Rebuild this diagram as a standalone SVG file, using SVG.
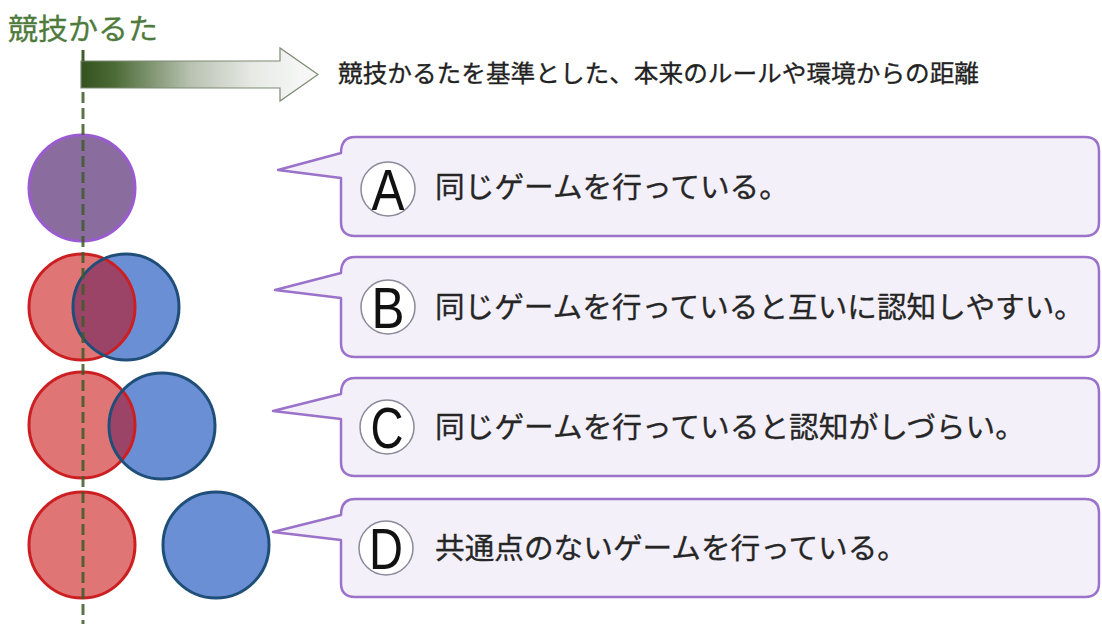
<svg xmlns="http://www.w3.org/2000/svg" width="1102" height="624" viewBox="0 0 1102 624">
<defs>
<linearGradient id="ag" x1="81" y1="0" x2="300" y2="0" gradientUnits="userSpaceOnUse">
<stop offset="0" stop-color="#34521e"/>
<stop offset="0.15" stop-color="#4b6a35"/>
<stop offset="0.5" stop-color="#b8c2b1"/>
<stop offset="0.78" stop-color="#e6e9e4"/>
<stop offset="1" stop-color="#f5f6f5"/>
</linearGradient>
<clipPath id="cb"><circle cx="126" cy="307" r="53"/></clipPath>
<clipPath id="cc"><circle cx="162" cy="426" r="53"/></clipPath>
</defs>
<style>
.jp{font-family:"Noto Sans CJK JP","Noto Sans CJK SC",sans-serif}
.box{fill:#f3f0f9;stroke:#9b72c9;stroke-width:2.5;stroke-linejoin:round}
.txt{font-size:29px;fill:#262626;stroke:#262626;stroke-width:0.3}
.lc{fill:#ffffff;stroke:#8a8a9a;stroke-width:1.5}
.lt{font-family:"Liberation Sans",Arial,sans-serif;font-size:58px;fill:#111111;text-anchor:middle}
.rf{fill:#e07575}
.rs{fill:none;stroke:#cc1f22;stroke-width:3}
.bf{fill:#6b8fd4}
.bs{fill:none;stroke:#1f4e79;stroke-width:3}
.ov{fill:#9c4468}
</style>
<text class="jp" x="8" y="40" font-size="29" fill="#4e7b3c" stroke="#4e7b3c" stroke-width="0.3" textLength="150" lengthAdjust="spacingAndGlyphs">競技かるた</text>
<g id="axis-arrow">
<path d="M81,61 H280 V48 L318,74.5 L280,101 V88 H81 Z" fill="url(#ag)" stroke="#7d8a74" stroke-width="1.2"/>
<text class="jp" x="338" y="82" font-size="24" fill="#222222" stroke="#222222" stroke-width="0.3" textLength="641" lengthAdjust="spacingAndGlyphs">競技かるたを基準とした、本来のルールや環境からの距離</text>
</g>
<g id="circle-A">
<circle cx="82" cy="188" r="53" fill="#8b6c9f" stroke="#9b5bd0" stroke-width="3"/>
</g>
<g id="circles-B">
<circle class="rf" cx="82" cy="307" r="53"/>
<circle class="bf" cx="126" cy="307" r="53"/>
<circle class="ov" cx="82" cy="307" r="53" clip-path="url(#cb)"/>
<circle class="rs" cx="82" cy="307" r="53"/>
<circle class="bs" cx="126" cy="307" r="53"/>
</g>
<g id="circles-C">
<circle class="rf" cx="82" cy="425" r="53"/>
<circle class="bf" cx="162" cy="426" r="53"/>
<circle class="ov" cx="82" cy="425" r="53" clip-path="url(#cc)"/>
<circle class="rs" cx="82" cy="425" r="53"/>
<circle class="bs" cx="162" cy="426" r="53"/>
</g>
<g id="circles-D">
<circle class="rf" cx="82" cy="545" r="53"/>
<circle class="rs" cx="82" cy="545" r="53"/>
<circle class="bf" cx="216" cy="545" r="53"/>
<circle class="bs" cx="216" cy="545" r="53"/>
</g>
<g id="connectors">
<line x1="83" y1="50" x2="83" y2="61" stroke="#3f5f2a" stroke-width="3"/>
<line x1="83" y1="92" x2="83" y2="624" stroke="#3d5c28" stroke-width="3" stroke-dasharray="11 5" stroke-opacity="0.85"/>
</g>
<g id="callout-A">
<path class="box" d="M355,137 H1085 Q1099,137 1099,151 V222 Q1099,236 1085,236 H355 Q341,236 341,222 V178 L278,170 L341,153 Q341,137 355,137 Z"/>
<circle class="lc" cx="388" cy="189" r="27"/>
<text class="lt" x="388" y="210" textLength="33" lengthAdjust="spacingAndGlyphs">A</text>
<text class="jp txt" x="435" y="198" textLength="354" lengthAdjust="spacingAndGlyphs">同じゲームを行っている。</text>
</g>
<g id="callout-B">
<path class="box" d="M355,257 H1085 Q1099,257 1099,271 V343 Q1099,357 1085,357 H355 Q341,357 341,343 V298 L275,290 L341,273 Q341,257 355,257 Z"/>
<circle class="lc" cx="388" cy="307" r="27"/>
<text class="lt" x="388" y="328" textLength="33" lengthAdjust="spacingAndGlyphs">B</text>
<text class="jp txt" x="435" y="318" textLength="649" lengthAdjust="spacingAndGlyphs">同じゲームを行っていると互いに認知しやすい。</text>
</g>
<g id="callout-C">
<path class="box" d="M355,378 H1085 Q1099,378 1099,392 V462 Q1099,476 1085,476 H355 Q341,476 341,462 V419 L273,411 L341,394 Q341,378 355,378 Z"/>
<circle class="lc" cx="387" cy="427" r="27"/>
<text class="lt" x="387" y="448" textLength="33" lengthAdjust="spacingAndGlyphs">C</text>
<text class="jp txt" x="435" y="438" textLength="590" lengthAdjust="spacingAndGlyphs">同じゲームを行っていると認知がしづらい。</text>
</g>
<g id="callout-D">
<path class="box" d="M355,499 H1085 Q1099,499 1099,513 V583 Q1099,597 1085,597 H355 Q341,597 341,583 V540 L273,532 L341,515 Q341,499 355,499 Z"/>
<circle class="lc" cx="386" cy="548" r="27"/>
<text class="lt" x="386" y="569" textLength="34" lengthAdjust="spacingAndGlyphs">D</text>
<text class="jp txt" x="435" y="559" textLength="472" lengthAdjust="spacingAndGlyphs">共通点のないゲームを行っている。</text>
</g>
</svg>
